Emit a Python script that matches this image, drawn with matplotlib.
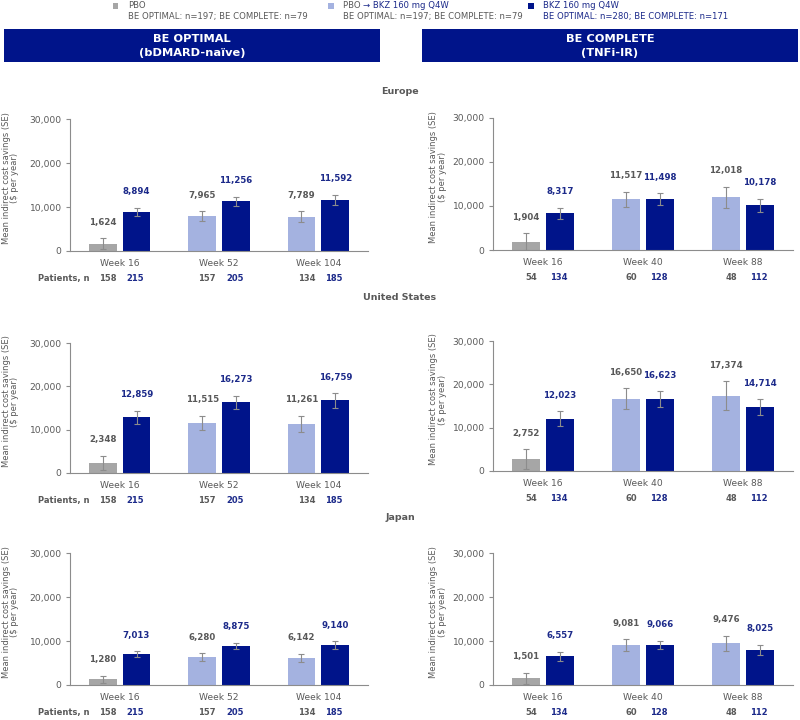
# Indirect cost savings by region, BE OPTIMAL vs BE COMPLETE
import numpy as np
import matplotlib.pyplot as plt
import matplotlib.transforms as mtransforms
from matplotlib.patches import Rectangle
from matplotlib.text import Annotation
from matplotlib.ticker import FuncFormatter

plt.rcParams['font.family'] = ['DejaVu Sans']

# data
weeks_opt = ['Week 16', 'Week 52', 'Week 104']
weeks_comp = ['Week 16', 'Week 40', 'Week 88']
regions = ['Europe', 'United States', 'Japan']

# first bar = PBO at week 16, PBO -> BKZ afterwards
eu_opt_pbo = [1624, 7965, 7789]
eu_opt_pbo_se = [1250, 1100, 1300]
eu_opt_bkz = [8894, 11256, 11592]
eu_opt_bkz_se = [900, 1050, 1150]
eu_comp_pbo = [1904, 11517, 12018]
eu_comp_pbo_se = [1850, 1750, 2400]
eu_comp_bkz = [8317, 11498, 10178]
eu_comp_bkz_se = [1300, 1350, 1450]

us_opt_pbo = [2348, 11515, 11261]
us_opt_pbo_se = [1650, 1650, 1900]
us_opt_bkz = [12859, 16273, 16759]
us_opt_bkz_se = [1450, 1550, 1700]
us_comp_pbo = [2752, 16650, 17374]
us_comp_pbo_se = [2300, 2450, 3300]
us_comp_bkz = [12023, 16623, 14714]
us_comp_bkz_se = [1750, 1800, 1900]

jp_opt_pbo = [1280, 6280, 6142]
jp_opt_pbo_se = [850, 900, 1000]
jp_opt_bkz = [7013, 8875, 9140]
jp_opt_bkz_se = [650, 750, 850]
jp_comp_pbo = [1501, 9081, 9476]
jp_comp_pbo_se = [1300, 1300, 1750]
jp_comp_bkz = [6557, 9066, 8025]
jp_comp_bkz_se = [1000, 950, 1150]

opt_n_pbo = [158, 157, 134]
opt_n_bkz = [215, 205, 185]
comp_n_pbo = [54, 60, 48]
comp_n_bkz = [134, 128, 112]

# colours
GRAY_BAR = '#A6A6A6'
LIGHT_BAR = '#A4B2E0'
NAVY = '#00148A'
TXT_GRAY = '#595959'
TXT_NAVY = '#1C2A8A'
AXIS_GRAY = '#8C8C8C'

W, H = 800, 720
fig = plt.figure(figsize=(8, 7.2), dpi=100)


def px_rect(x0, y0, x1, y1):
    # pixel box (top-left origin) -> figure fraction rect
    return [x0 / W, 1 - y1 / H, (x1 - x0) / W, (y1 - y0) / H]


def draw_panel(rect, weeks, first_vals, first_se, bkz_vals, bkz_se,
               n_first, n_bkz, show_patients, label_x):
    ax = fig.add_axes(rect)
    x = np.arange(len(weeks))
    first_cols = [GRAY_BAR] + [LIGHT_BAR] * (len(weeks) - 1)
    ekw = dict(ecolor=AXIS_GRAY, elinewidth=0.8, capsize=2.2, capthick=0.8)
    ax.bar(x - 0.17, first_vals, width=0.28, color=first_cols, yerr=first_se, error_kw=ekw)
    ax.bar(x + 0.17, bkz_vals, width=0.28, color=NAVY, yerr=bkz_se, error_kw=ekw)

    for xi, v, se in zip(x - 0.17, first_vals, first_se):
        ax.annotate(f'{v:,}', xy=(xi, v + se), xytext=(0, 16), textcoords='offset pixels',
                    ha='center', va='center', fontsize=6.2, fontweight='bold', color=TXT_GRAY)
    for xi, v, se in zip(x + 0.17, bkz_vals, bkz_se):
        ax.annotate(f'{v:,}', xy=(xi, v + se), xytext=(0, 16), textcoords='offset pixels',
                    ha='center', va='center', fontsize=6.2, fontweight='bold', color=TXT_NAVY)

    ax.set_xlim(-0.5, 2.5)
    ax.set_ylim(0, 30000)
    ax.set_yticks([0, 10000, 20000, 30000])
    ax.yaxis.set_major_formatter(FuncFormatter(lambda v, p: f'{int(v):,}'))
    ax.set_xticks(x)
    ax.set_xticklabels(weeks)
    ax.tick_params(axis='x', length=0, pad=6, labelsize=6.6, labelcolor=TXT_GRAY)
    ax.tick_params(axis='y', length=3, width=0.8, color=AXIS_GRAY, pad=3,
                   labelsize=6.6, labelcolor=TXT_GRAY)
    for s in ['top', 'right']:
        ax.spines[s].set_visible(False)
    for s in ['left', 'bottom']:
        ax.spines[s].set_color(AXIS_GRAY)
        ax.spines[s].set_linewidth(0.8)

    # label_x is the right edge of the two-line label (anchor rotation)
    ax.set_ylabel('Mean indirect cost savings (SE)\n($ per year)', fontsize=6.0,
                  color=TXT_GRAY, linespacing=0.95)
    ax.yaxis.set_label_coords(label_x, 0.55)

    # patient numbers under the week labels
    trans = mtransforms.blended_transform_factory(ax.transData, ax.transAxes)
    for xi, a, b in zip(x, n_first, n_bkz):
        ax.text(xi - 0.12, -0.212, str(a), transform=trans, ha='center', va='center',
                fontsize=6.0, fontweight='bold', color=TXT_GRAY)
        ax.text(xi + 0.16, -0.212, str(b), transform=trans, ha='center', va='center',
                fontsize=6.0, fontweight='bold', color=TXT_NAVY)
    if show_patients:
        ax.text(0.064, -0.212, 'Patients, n', transform=ax.transAxes, ha='right',
                va='center', fontsize=6.0, fontweight='bold', color=TXT_GRAY)
    return ax


# legend across the top
legend_items = [(113, GRAY_BAR), (328, LIGHT_BAR), (528, NAVY)]
for lx, col in legend_items:
    fig.add_artist(Rectangle((lx / W, 1 - 8.5 / H), 5.5 / W, 5.5 / H,
                             transform=fig.transFigure, color=col, lw=0))

fig.text(128 / W, 1 - 5.5 / H, 'PBO', fontsize=6.1, color=TXT_GRAY, va='center')
fig.text(128 / W, 1 - 16.5 / H, 'BE OPTIMAL: n=197; BE COMPLETE: n=79',
         fontsize=6.1, color=TXT_GRAY, va='center')
t = fig.text(343 / W, 1 - 5.5 / H, 'PBO ', fontsize=6.1, color=TXT_GRAY, va='center')
fig.add_artist(Annotation('\u2192 BKZ 160 mg Q4W', xy=(1, 0.5), xycoords=t, va='center',
                          fontsize=6.1, color=TXT_NAVY, annotation_clip=False))
fig.text(343 / W, 1 - 16.5 / H, 'BE OPTIMAL: n=197; BE COMPLETE: n=79',
         fontsize=6.1, color=TXT_GRAY, va='center')
fig.text(543 / W, 1 - 5.5 / H, 'BKZ 160 mg Q4W', fontsize=6.1, color=TXT_NAVY, va='center')
fig.text(543 / W, 1 - 16.5 / H, 'BE OPTIMAL: n=280; BE COMPLETE: n=171',
         fontsize=6.1, color=TXT_NAVY, va='center')

# study banners
banners = [(4, 380, 'BE OPTIMAL', '(bDMARD-na\u00efve)'),
           (422, 798, 'BE COMPLETE', '(TNFi-IR)')]
for x0, x1, line1, line2 in banners:
    fig.add_artist(Rectangle((x0 / W, 1 - 62 / H), (x1 - x0) / W, 33 / H,
                             transform=fig.transFigure, color=NAVY, lw=0))
    xc = (x0 + x1) / 2 / W
    fig.text(xc, 1 - 38.5 / H, line1, ha='center', va='center', fontsize=8.2,
             fontweight='bold', color='white')
    fig.text(xc, 1 - 53.5 / H, line2, ha='center', va='center', fontsize=8.2,
             fontweight='bold', color='white')

# region titles
title_y = [91, 297, 518]
for name, ty in zip(regions, title_y):
    fig.text(0.5, 1 - ty / H, name, ha='center', va='center', fontsize=6.8,
             fontweight='bold', color=TXT_GRAY)

LX_LEFT, LX_RIGHT = -0.17, -0.153
draw_panel(px_rect(70, 119, 368, 251), weeks_opt, eu_opt_pbo, eu_opt_pbo_se,
           eu_opt_bkz, eu_opt_bkz_se, opt_n_pbo, opt_n_bkz, True, LX_LEFT)
draw_panel(px_rect(493, 118, 793, 250), weeks_comp, eu_comp_pbo, eu_comp_pbo_se,
           eu_comp_bkz, eu_comp_bkz_se, comp_n_pbo, comp_n_bkz, False, LX_RIGHT)
draw_panel(px_rect(70, 343, 368, 473), weeks_opt, us_opt_pbo, us_opt_pbo_se,
           us_opt_bkz, us_opt_bkz_se, opt_n_pbo, opt_n_bkz, True, LX_LEFT)
draw_panel(px_rect(493, 341, 793, 471), weeks_comp, us_comp_pbo, us_comp_pbo_se,
           us_comp_bkz, us_comp_bkz_se, comp_n_pbo, comp_n_bkz, False, LX_RIGHT)
draw_panel(px_rect(70, 553, 368, 685), weeks_opt, jp_opt_pbo, jp_opt_pbo_se,
           jp_opt_bkz, jp_opt_bkz_se, opt_n_pbo, opt_n_bkz, True, LX_LEFT)
draw_panel(px_rect(493, 553, 793, 685), weeks_comp, jp_comp_pbo, jp_comp_pbo_se,
           jp_comp_bkz, jp_comp_bkz_se, comp_n_pbo, comp_n_bkz, False, LX_RIGHT)

fig.savefig('out.png', dpi=100)
